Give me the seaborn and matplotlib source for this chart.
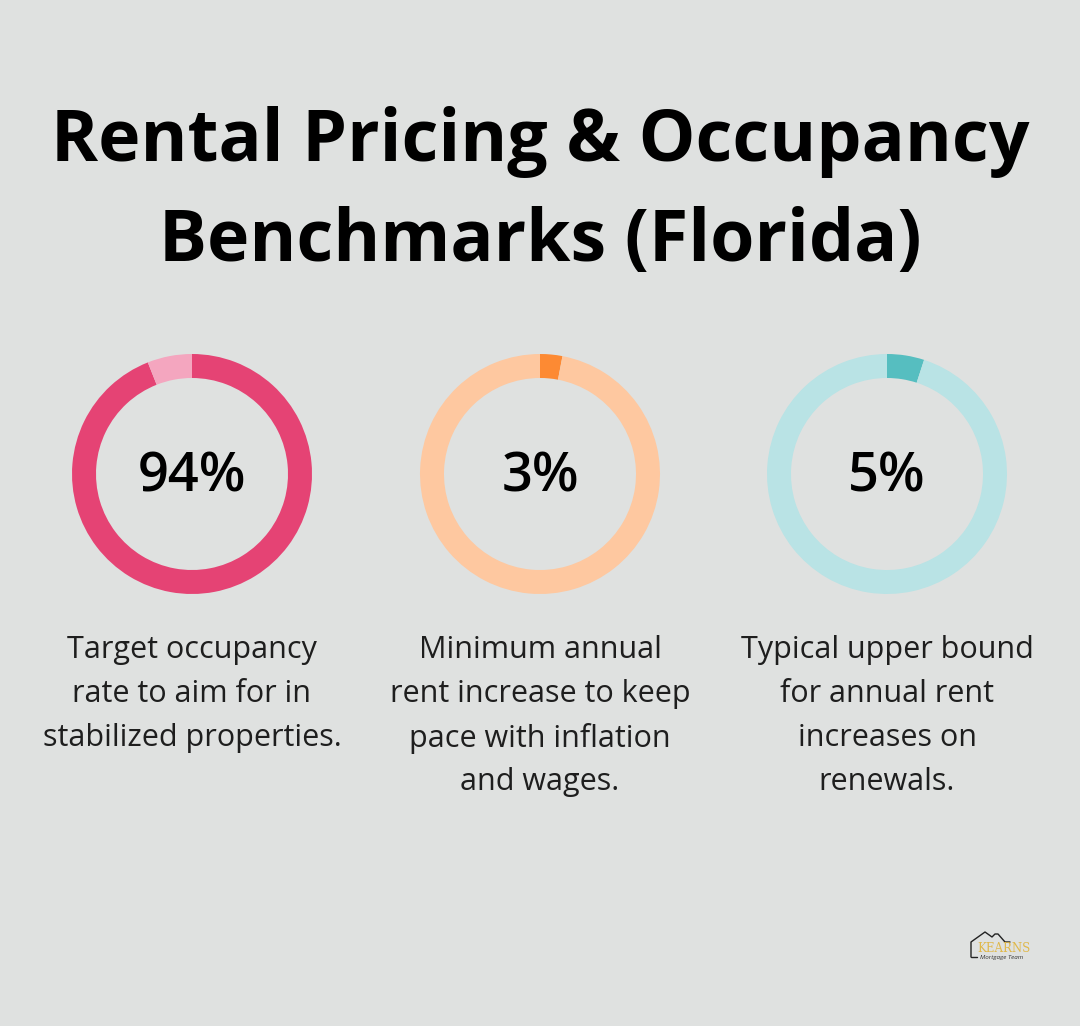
import matplotlib
matplotlib.use("Agg")
import matplotlib.pyplot as plt
import seaborn as sns

# ---- data ----
title_lines = ["Rental Pricing & Occupancy", "Benchmarks (Florida)"]
values = [94, 3, 5]
labels = ["94%", "3%", "5%"]
descriptions = [
    ["Target occupancy", "rate to aim for in", "stabilized properties."],
    ["Minimum annual", "rent increase to keep", "pace with inflation", "and wages."],
    ["Typical upper bound", "for annual rent", "increases on", "renewals."],
]
main_colors = ["#e54374", "#fd8a33", "#56bec0"]
light_colors = ["#f4a6bf", "#fec8a0", "#b9e3e5"]

sns.set_theme(style="white")
plt.rcParams['font.family'] = ['Open Sans', 'DejaVu Sans']

BG = "#dfe1e0"
W, H = 1080, 1026
fig = plt.figure(figsize=(W / 100, H / 100), dpi=100, facecolor=BG)

# title
fig.text(0.5, 1 - 142 / H, title_lines[0], ha="center", va="center",
         fontsize=51.5, fontweight="bold", color="#000000")
fig.text(0.5, 1 - 242 / H, title_lines[1], ha="center", va="center",
         fontsize=51.5, fontweight="bold", color="#000000")

centers_x = [192, 540, 887]
cy = 474
R = 120
for i, (v, lab) in enumerate(zip(values, labels)):
    cx = centers_x[i]
    ax = fig.add_axes([(cx - R) / W, (H - cy - R) / H, 2 * R / W, 2 * R / H])
    ax.set_facecolor(BG)
    ax.pie([v, 100 - v], colors=[main_colors[i], light_colors[i]],
           startangle=90, counterclock=False, radius=1.0,
           wedgeprops=dict(width=0.2, edgecolor="none", linewidth=0))
    ax.set_xlim(-1, 1)
    ax.set_ylim(-1, 1)
    ax.set_aspect("equal")
    ax.axis("off")
    ax.text(0, -0.03, lab, ha="center", va="center", fontsize=39,
            fontweight="semibold", color="#000000")
    for j, line in enumerate(descriptions[i]):
        fig.text(cx / W, 1 - (650 + 44 * j) / H, line, ha="center", va="center",
                 fontsize=22, color="#1e1e1e")

# logo (approximate)
lx = fig.add_axes([940 / W, (H - 1000) / H, 120 / W, 80 / H])
lx.set_xlim(0, 120)
lx.set_ylim(80, 0)
lx.axis("off")
lx.plot([31, 31, 45, 52, 55, 58, 65, 70], [37, 22, 12, 17, 14, 14, 22, 22],
        color="#222222", lw=1.0)
lx.plot([31, 37], [37, 37], color="#222222", lw=1.0)
lx.text(64, 29, "KEARNS", ha="center", va="center", fontsize=8.5,
        color="#e0b84a", family=["DejaVu Serif"])
lx.text(62, 38, "Mortgage Team", ha="center", va="center", fontsize=4.5,
        color="#333333", style="italic")

fig.savefig("out.png", dpi=100, facecolor=BG)
